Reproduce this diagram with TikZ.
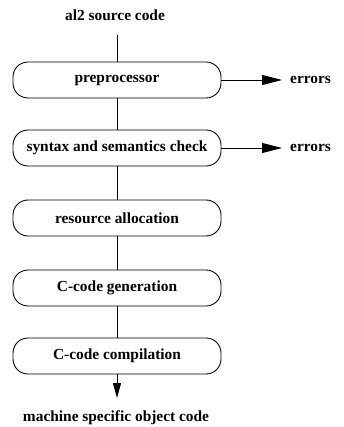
\documentclass[tikz,border=0pt]{standalone}
\usepackage{fontspec}
\setmainfont{Liberation Serif}
\usetikzlibrary{arrows.meta}
\begin{document}
\begin{tikzpicture}[x=1pt,y=1pt,
  stage/.style={draw,line width=0.9pt,rounded corners=15pt,minimum width=208pt,minimum height=36pt,inner sep=0pt,font=\bfseries\fontsize{15.4}{17}\selectfont},
  lbl/.style={inner sep=0pt,font=\bfseries\fontsize{15.4}{17}\selectfont},
  conn/.style={line width=0.9pt},
  arr/.style={line width=0.9pt,-{Triangle[length=20pt,width=10pt]}},
  darr/.style={line width=0.9pt,-{Triangle[length=15pt,width=8pt]}}]
\useasboundingbox (0,0) rectangle (344,-427);
\node[lbl] (src) at (115,-15) {al2 source code};
\coordinate (srcend) at (117,-35);
\node[stage] (pre) at (117,-80) {preprocessor};
\node[stage] (syn) at (117,-148) {syntax and semantics check};
\node[stage] (res) at (117,-218) {resource allocation};
\node[stage] (gen) at (117,-288) {C-code generation};
\node[stage] (comp) at (117,-356) {C-code compilation};
\node[lbl,anchor=west] (e1) at (290,-80) {errors};
\node[lbl,anchor=west] (e2) at (290,-148) {errors};
\node[lbl] (obj) at (116,-418) {machine specific object code};
\coordinate (t1) at (282,-80);
\coordinate (t2) at (282,-148);
\coordinate (t3) at (117,-398);
\draw[conn] (srcend) -- (pre.north);
\draw[conn] (pre) -- (syn);
\draw[conn] (syn) -- (res);
\draw[conn] (res) -- (gen);
\draw[conn] (gen) -- (comp);
\draw[arr] (pre.east) -- (t1);
\draw[arr] (syn.east) -- (t2);
\draw[darr] (comp.south) -- (t3);
\end{tikzpicture}
\end{document}
